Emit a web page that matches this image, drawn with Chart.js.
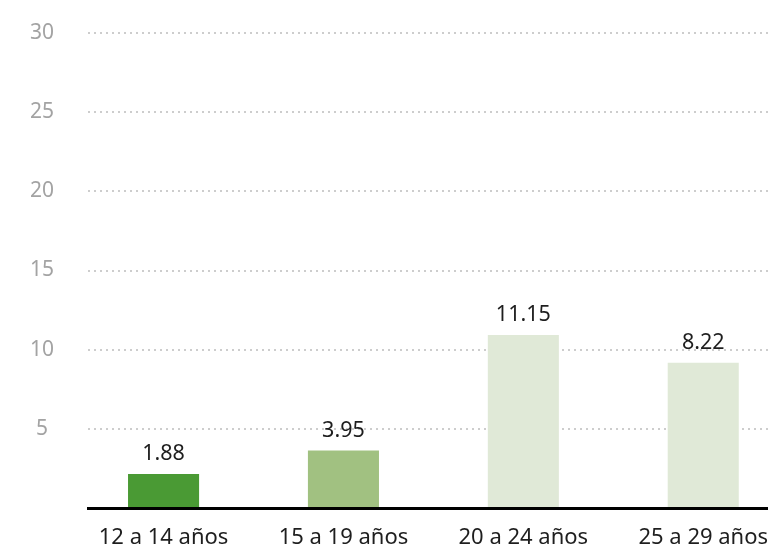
<!DOCTYPE html>
<html>
<head>
<meta charset="utf-8">
<script src="https://cdn.jsdelivr.net/npm/chart.js@4"></script>
<style>
  html, body { margin: 0; padding: 0; background: #fff; overflow: hidden; }
  #wrap { width: 768px; height: 549px; }
</style>
</head>
<body>
<div id="wrap"><canvas id="myChart" width="768" height="549"></canvas></div>
<script>
// age groups on the x axis
const categories = ['12 a 14 años', '15 a 19 años', '20 a 24 años', '25 a 29 años'];
// bar heights as drawn in the picture
const barValues = [2.14, 3.63, 10.93, 9.17];
// the numbers printed over the bars
const barLabels = ['1.88', '3.95', '11.15', '8.22'];
const barColors = ['#4a9a34', '#a1c181', '#e0e9d7', '#e0e9d7'];
const yTicks = [5, 10, 15, 20, 25, 30];

const fontFamily = '"Noto Sans", "Open Sans", sans-serif';

// writes the value text above each bar
const valueLabels = {
    id: 'valueLabels',
    afterDatasetsDraw(chart) {
        const ctx = chart.ctx;
        const meta = chart.getDatasetMeta(0);
        ctx.save();
        ctx.font = '21.5px ' + fontFamily;
        ctx.fillStyle = '#1e1e1e';
        ctx.textAlign = 'center';
        ctx.textBaseline = 'alphabetic';
        meta.data.forEach((bar, i) => {
            ctx.fillText(barLabels[i], bar.x, bar.y - 14);
        });
        ctx.restore();
    }
};

const ctx = document.getElementById('myChart').getContext('2d');
new Chart(ctx, {
    type: 'bar',
    data: {
        datasets: [
            {
                data: barValues.map((v, i) => ({ x: i, y: v })),
                backgroundColor: barColors,
                borderWidth: 0,
                categoryPercentage: 1,
                barPercentage: 0.395
            }
        ]
    },
    options: {
        responsive: false,
        animation: false,
        events: [],
        layout: { padding: { top: 33, right: 0, bottom: 0, left: 0 } },
        plugins: {
            legend: { display: false },
            tooltip: { enabled: false }
        },
        scales: {
            x: {
                type: 'linear',
                min: -0.42,
                max: 3.36,
                bounds: 'data',
                offset: false,
                z: 1,
                grid: { display: false, drawTicks: false },
                border: { display: true, color: '#000', width: 3 },
                afterBuildTicks: scale => {
                    scale.ticks = categories.map((c, i) => ({ value: i }));
                },
                ticks: {
                    autoSkip: false,
                    maxRotation: 0,
                    padding: 17,
                    color: '#1e1e1e',
                    font: { family: fontFamily, size: 22 },
                    callback: v => categories[v]
                },
                afterFit: scale => {
                    scale.paddingLeft = 0;
                    scale.paddingRight = 0;
                    scale.height = 41;
                }
            },
            y: {
                min: 0,
                max: 30,
                grid: { color: '#cdcdcd', lineWidth: 2, drawTicks: false },
                border: { display: false, dash: [2, 4] },
                afterBuildTicks: scale => {
                    scale.ticks = [0].concat(yTicks).map(v => ({ value: v }));
                },
                ticks: {
                    padding: 34,
                    crossAlign: 'center',
                    color: '#a3a3a3',
                    font: { family: fontFamily, size: 21 },
                    callback: v => v === 0 ? '' : v
                },
                afterFit: scale => {
                    scale.width = 88;
                    scale.paddingTop = 0;
                    scale.paddingBottom = 0;
                }
            }
        }
    },
    plugins: [valueLabels]
});
</script>
</body>
</html>
